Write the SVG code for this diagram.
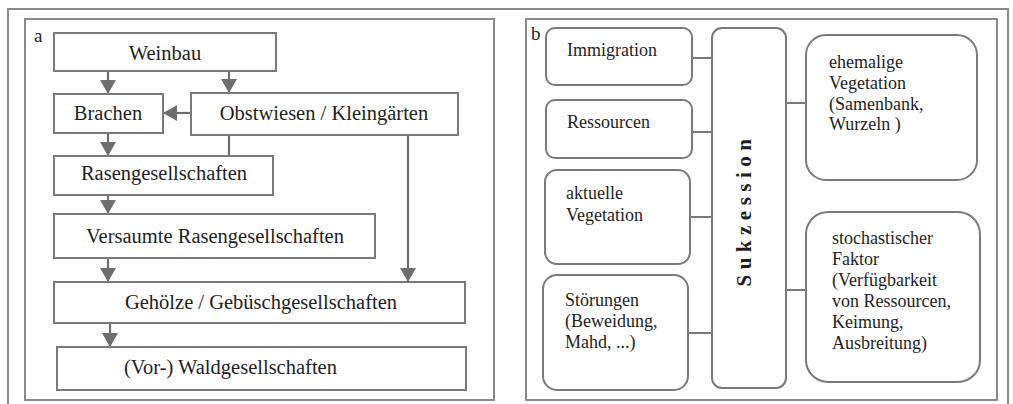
<svg xmlns="http://www.w3.org/2000/svg" width="1013" height="404" viewBox="0 0 1013 404">
<style>
.frame{fill:none;stroke:#8a8a8a;stroke-width:2}
.box{fill:#fff;stroke:#7a7a7a;stroke-width:2}
.t{font-family:"Liberation Serif","Times New Roman",serif;fill:#1e1e1e}
.ta{font-size:20.5px}
.tb{font-size:18px}
.con{fill:none;stroke:#6e6e6e;stroke-width:2.2}
.lnk{fill:none;stroke:#7a7a7a;stroke-width:2}
</style>
<defs>
<marker id="ah" viewBox="0 0 14 16" refX="14" refY="8" markerWidth="14" markerHeight="16" orient="auto" markerUnits="userSpaceOnUse">
<path d="M0,0 L14,8 L0,16 z" fill="#6e6e6e"/>
</marker>
</defs>
<rect width="1013" height="404" fill="#fff"/>
<path class="frame" d="M8,410 V9 H1008 V410"/>
<rect class="frame" x="25" y="19" width="469" height="381"/>
<rect class="frame" x="526" y="19" width="471" height="381"/>
<text class="t" x="34" y="42" font-size="19px">a</text>
<text class="t" x="531" y="40" font-size="19px">b</text>

<g id="connectors-a">
<path class="con" d="M108,71 V94" marker-end="url(#ah)"/>
<path class="con" d="M229,71 V93" marker-end="url(#ah)"/>
<path class="con" d="M191,113 H163" marker-end="url(#ah)"/>
<path class="con" d="M108,133 V156" marker-end="url(#ah)"/>
<path class="con" d="M229,135 V156"/>
<path class="con" d="M108,195 V214" marker-end="url(#ah)"/>
<path class="con" d="M408,135 V282" marker-end="url(#ah)"/>
<path class="con" d="M108,258 V282" marker-end="url(#ah)"/>
<path class="con" d="M110,323 V347" marker-end="url(#ah)"/>
</g>

<g id="weinbau"><rect class="box" x="54" y="33" width="222" height="38"/><text class="t ta" x="165" y="60" text-anchor="middle">Weinbau</text></g>
<g id="brachen"><rect class="box" x="54" y="94" width="109" height="39"/><text class="t ta" x="108" y="120" text-anchor="middle">Brachen</text></g>
<g id="obstwiesen"><rect class="box" x="191" y="93" width="267" height="42"/><text class="t ta" x="324" y="120" text-anchor="middle">Obstwiesen / Kleingärten</text></g>
<g id="rasen"><rect class="box" x="54" y="156" width="219" height="39"/><text class="t ta" x="164" y="180" text-anchor="middle">Rasengesellschaften</text></g>
<g id="versaumte"><rect class="box" x="54" y="214" width="321" height="44"/><text class="t ta" x="215" y="243" text-anchor="middle">Versaumte Rasengesellschaften</text></g>
<g id="gehoelze"><rect class="box" x="54" y="282" width="411" height="41"/><text class="t ta" x="261" y="309" text-anchor="middle">Gehölze / Gebüschgesellschaften</text></g>
<g id="wald"><rect class="box" x="57" y="347" width="409" height="43"/><text class="t ta" x="124" y="374">(Vor-) Waldgesellschaften</text></g>

<g id="connectors-b">
<path class="lnk" d="M692,58 H714"/>
<path class="lnk" d="M692,132 H712"/>
<path class="lnk" d="M690,217 H712"/>
<path class="lnk" d="M688,333 H712"/>
<path class="lnk" d="M786,103 H806"/>
<path class="lnk" d="M786,290 H806"/>
</g>

<g id="immigration"><rect class="box" x="546" y="28" width="146" height="57" rx="9"/><text class="t tb" x="567" y="56">Immigration</text></g>
<g id="ressourcen"><rect class="box" x="546" y="100" width="146" height="58" rx="9"/><text class="t tb" x="567" y="128">Ressourcen</text></g>
<g id="aktuelle"><rect class="box" x="545" y="170" width="145" height="94" rx="12"/><text class="t tb" x="566" y="199">aktuelle</text><text class="t tb" x="566" y="221">Vegetation</text></g>
<g id="stoerungen"><rect class="box" x="543" y="275" width="145" height="115" rx="14"/><text class="t tb" x="565" y="306">Störungen</text><text class="t tb" x="565" y="327">(Beweidung,</text><text class="t tb" x="565" y="348">Mahd, ...)</text></g>
<g id="sukzession"><rect class="box" x="712" y="28" width="74" height="360" rx="10"/><text class="t" x="0" y="0" font-size="21px" font-weight="bold" letter-spacing="5.5" text-anchor="middle" transform="translate(751,210) rotate(-90)">Sukzession</text></g>
<g id="ehemalige"><rect class="box" x="806" y="35" width="171" height="145" rx="20"/><text class="t tb" x="829" y="68">ehemalige</text><text class="t tb" x="829" y="89">Vegetation</text><text class="t tb" x="829" y="110">(Samenbank,</text><text class="t tb" x="829" y="130">Wurzeln )</text></g>
<g id="stochastisch"><rect class="box" x="806" y="212" width="174" height="170" rx="22"/><text class="t tb" x="832" y="244">stochastischer</text><text class="t tb" x="832" y="265">Faktor</text><text class="t tb" x="832" y="286">(Verfügbarkeit</text><text class="t tb" x="832" y="307">von Ressourcen,</text><text class="t tb" x="832" y="328">Keimung,</text><text class="t tb" x="832" y="349">Ausbreitung)</text></g>
</svg>
